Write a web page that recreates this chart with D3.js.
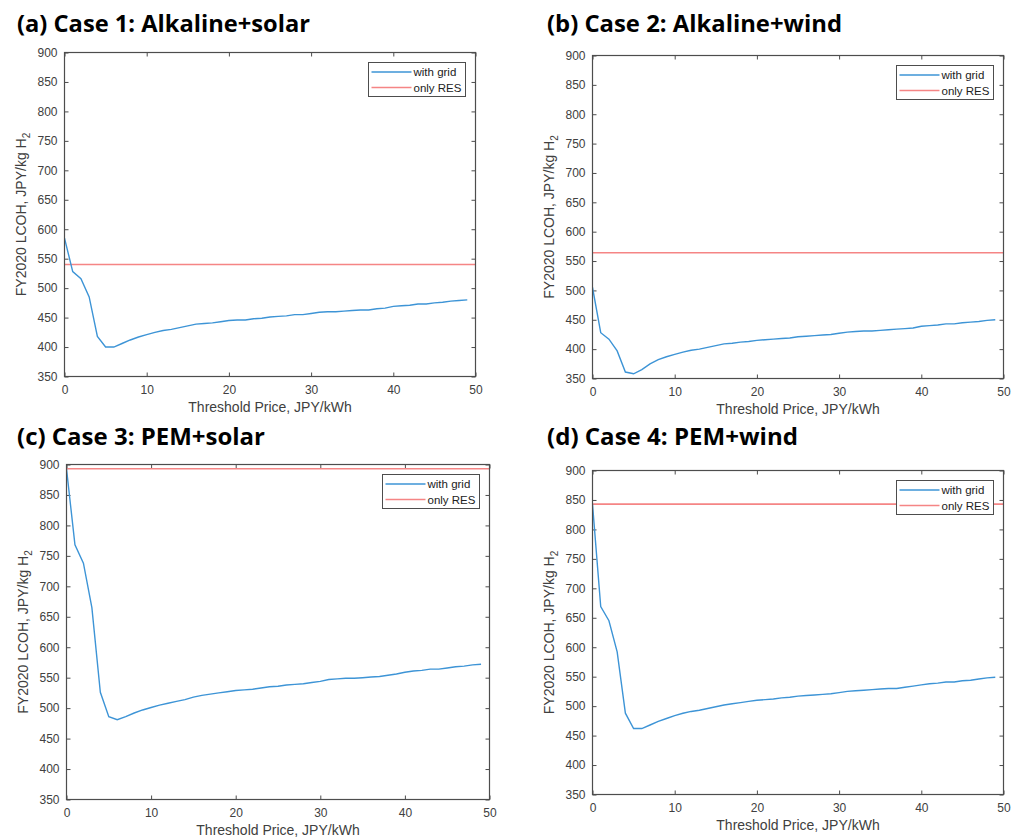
<!DOCTYPE html>
<html>
<head>
<meta charset="utf-8">
<script src="https://cdn.jsdelivr.net/npm/d3@7"></script>
<style>
  body { margin: 0; background: #fff; }
  svg { display: block; }
  text { font-family: Arial, "Liberation Sans", sans-serif; }
</style>
</head>
<body>
<script>
// threshold price, JPY/kWh
const thresholds = [0, 1, 2, 3, 4, 5, 6, 7, 8, 9, 10, 11, 12, 13, 14, 15, 16, 17, 18, 19,
    20, 21, 22, 23, 24, 25, 26, 27, 28, 29, 30, 31, 32, 33, 34, 35, 36, 37, 38, 39,
    40, 41, 42, 43, 44, 45, 46, 47, 48, 49]

// LCOH with grid, JPY/kg H2
const case1Grid = [585, 528, 516, 485, 418, 400, 400, 406, 412, 417, 421, 425, 428, 430, 433, 436, 439, 440, 441, 443,
    445, 446, 446, 448, 449, 451, 452, 453, 455, 455, 457, 459, 460, 460, 461, 462, 463, 463, 465, 466,
    469, 470, 471, 473, 473, 475, 476, 478, 479, 480]
const case2Grid = [505, 428, 417, 397, 361, 358, 365, 375, 382, 387, 391, 395, 398, 400, 403, 406, 409, 410, 412, 413,
    415, 416, 417, 418, 419, 421, 422, 423, 424, 425, 427, 429, 430, 431, 431, 432, 433, 434, 435, 436,
    439, 440, 441, 443, 443, 445, 446, 447, 449, 450]
const case3Grid = [893, 768, 738, 665, 526, 486, 481, 486, 492, 497, 501, 505, 508, 511, 514, 518, 521, 523, 525, 527,
    529, 530, 531, 533, 535, 536, 538, 539, 540, 542, 544, 547, 548, 549, 549, 550, 551, 552, 554, 556,
    559, 561, 562, 564, 564, 566, 568, 569, 571, 572]
const case4Grid = [843, 669, 645, 592, 488, 462, 462, 468, 474, 479, 484, 488, 491, 493, 496, 499, 502, 504, 506, 508,
    510, 511, 512, 514, 515, 517, 518, 519, 520, 521, 523, 525, 526, 527, 528, 529, 530, 530, 532, 534,
    536, 538, 539, 541, 541, 543, 544, 546, 548, 549]

// LCOH with only renewables
const resOnly = [540, 564, 893, 843]

const titles = ['(a) Case 1: Alkaline+solar', '(b) Case 2: Alkaline+wind', '(c) Case 3: PEM+solar', '(d) Case 4: PEM+wind']
const xTicks = [0, 10, 20, 30, 40, 50]
const yTicks = [350, 400, 450, 500, 550, 600, 650, 700, 750, 800, 850, 900]
const legendLabels = ['with grid', 'only RES']

const gridSeries = [case1Grid, case2Grid, case3Grid, case4Grid]

// panel placement
const panels = [
    { left: 64.5, top: 52.5, right: 475.5, bottom: 376.5, tx: 17, ty: 32, tw: 293 },
    { left: 592.5, top: 55.5, right: 1003.5, bottom: 378.5, tx: 547, ty: 32, tw: 295 },
    { left: 66.5, top: 464.5, right: 489.5, bottom: 799.5, tx: 17, ty: 445, tw: 248 },
    { left: 592.5, top: 470.5, right: 1003.5, bottom: 794.5, tx: 547, ty: 445, tw: 251 },
]

const blue = '#3d94d6'
const red = '#f58585'
const axisColor = '#4d4d4d'
const textColor = '#404040'

const svg = d3.select('body').append('svg')
    .attr('width', 1022)
    .attr('height', 838)

panels.forEach((p, i) => {
    const g = svg.append('g')

    // title
    g.append('text')
        .attr('x', p.tx)
        .attr('y', p.ty)
        .attr('textLength', p.tw)
        .attr('lengthAdjust', 'spacingAndGlyphs')
        .style('font-family', '"Open Sans", sans-serif')
        .style('font-weight', 'bold')
        .style('font-size', '23px')
        .style('fill', '#000')
        .text(titles[i])

    const x = d3.scaleLinear().domain([0, 50]).range([p.left, p.right])
    const y = d3.scaleLinear().domain([350, 900]).range([p.bottom, p.top])
    const w = p.right - p.left
    const h = p.bottom - p.top

    // axes (ticks inside, box around)
    const styleAxis = sel => {
        sel.select('.domain').remove()
        sel.selectAll('line').style('stroke', axisColor).style('stroke-width', 1)
        sel.selectAll('text').style('fill', textColor).style('font-size', '12px')
    }
    g.append('g')
        .attr('transform', `translate(0, ${p.bottom})`)
        .call(d3.axisBottom(x).tickValues(xTicks).tickSizeInner(-4).tickSizeOuter(0).tickPadding(9))
        .call(styleAxis)
    g.append('g')
        .attr('transform', `translate(0, ${p.top})`)
        .call(d3.axisTop(x).tickValues(xTicks).tickSizeInner(-4).tickSizeOuter(0).tickFormat(''))
        .call(styleAxis)
    g.append('g')
        .attr('transform', `translate(${p.left}, 0)`)
        .call(d3.axisLeft(y).tickValues(yTicks).tickSizeInner(-4).tickSizeOuter(0).tickPadding(7))
        .call(styleAxis)
    g.append('g')
        .attr('transform', `translate(${p.right}, 0)`)
        .call(d3.axisRight(y).tickValues(yTicks).tickSizeInner(-4).tickSizeOuter(0).tickFormat(''))
        .call(styleAxis)

    // clip for lines
    g.append('clipPath').attr('id', 'clip' + i)
        .append('rect').attr('x', p.left).attr('y', p.top).attr('width', w).attr('height', h)

    const line = d3.line()
        .x((d, k) => x(thresholds[k]))
        .y(d => y(d))

    g.append('path')
        .datum([resOnly[i], resOnly[i]])
        .attr('clip-path', `url(#clip${i})`)
        .style('stroke', red)
        .style('stroke-width', 1.6)
        .style('fill', 'none')
        .attr('d', d3.line().x((d, k) => x(k === 0 ? 0 : 50)).y(d => y(d)))

    g.append('path')
        .datum(gridSeries[i])
        .attr('clip-path', `url(#clip${i})`)
        .style('stroke', blue)
        .style('stroke-width', 1.4)
        .style('fill', 'none')
        .attr('d', line)

    // frame
    g.append('rect')
        .attr('x', p.left).attr('y', p.top).attr('width', w).attr('height', h)
        .style('fill', 'none').style('stroke', axisColor).style('stroke-width', 1.2)

    // axis labels
    g.append('text')
        .attr('x', (p.left + p.right) / 2)
        .attr('y', p.bottom + 35.5)
        .attr('text-anchor', 'middle')
        .style('font-size', '14px')
        .style('fill', textColor)
        .text('Threshold Price, JPY/kWh')

    const yl = g.append('text')
        .attr('transform', `translate(${p.left - 39}, ${(p.top + p.bottom) / 2}) rotate(-90)`)
        .attr('text-anchor', 'middle')
        .style('font-size', '14px')
        .style('fill', textColor)
    yl.append('tspan').text('FY2020 LCOH, JPY/kg H')
    yl.append('tspan').attr('dy', 4).style('font-size', '10px').text('2')

    // legend
    const lw = 97, lh = 34
    const lx = p.right - 10 - lw
    const ly = p.top + 10
    const lg = g.append('g').attr('transform', `translate(${lx}, ${ly})`)
    lg.append('rect')
        .attr('width', lw).attr('height', lh)
        .style('fill', '#fff').style('stroke', axisColor).style('stroke-width', 1)
    const legColors = [blue, red]
    legendLabels.forEach((lab, k) => {
        const yy = 9.5 + k * 15.5
        lg.append('line')
            .attr('x1', 3).attr('x2', 43).attr('y1', yy).attr('y2', yy)
            .style('stroke', legColors[k]).style('stroke-width', 1.4)
        lg.append('text')
            .attr('x', 45).attr('y', yy + 4)
            .style('font-size', '11.5px')
            .style('fill', '#222')
            .text(lab)
    })
})
</script>
</body>
</html>
